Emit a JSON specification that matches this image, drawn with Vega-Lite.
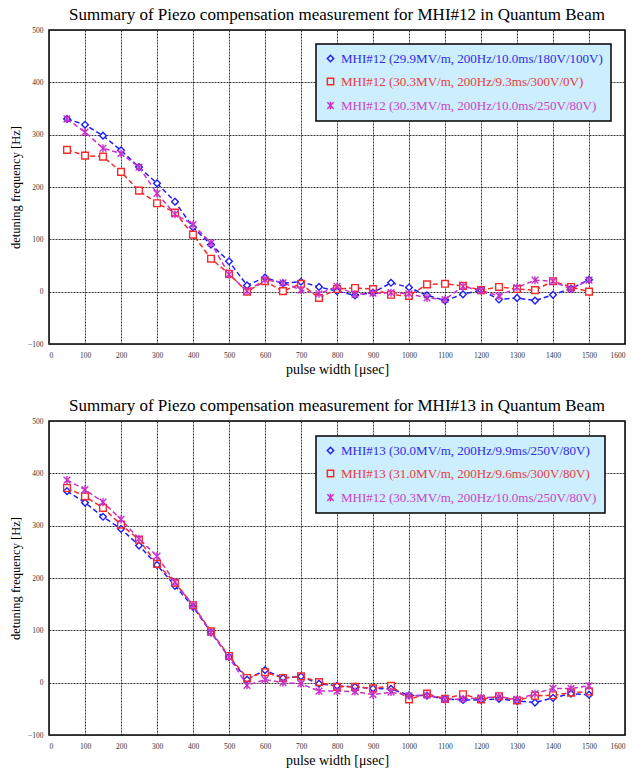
{
  "$schema": "https://vega.github.io/schema/vega-lite/v6.json",
  "padding": {"left": 8, "top": 5, "right": 5, "bottom": 0},
  "background": "white",
  "config": {
    "font": "Liberation Serif",
    "view": {"stroke": "black", "strokeWidth": 1.5},
    "axis": {"grid": true, "gridColor": "#222222", "gridDash": [2, 1], "gridOpacity": 0.9, "gridWidth": 1, "domain": false, "ticks": false, "labelFont": "Liberation Serif", "labelFontSize": 7.5, "labelColor": "#333333", "labelPadding": 6, "titleFont": "Liberation Serif", "titleFontWeight": "normal", "titleFontSize": 12.5, "titleColor": "black", "titlePadding": 5, "format": "d"},
    "axisX": {"labelPadding": 7, "titlePadding": 4, "titleFontSize": 14},
    "title": {"font": "Liberation Serif", "fontSize": 17, "fontWeight": "normal", "color": "black", "offset": 2},
    "legend": {"title": null, "orient": "none", "legendX": 267, "direction": "vertical", "fillColor": "#cdeefc", "strokeColor": "black", "padding": 8, "rowPadding": 9, "labelFont": "Liberation Serif", "labelFontSize": 13, "labelLimit": 400, "labelOffset": 4, "symbolSize": 40, "symbolStrokeWidth": 1.5},
    "concat": {"spacing": 18}
  },
  "datasets": {
    "top": [
      {"x": 50, "s": "a", "y": 330}, {"x": 100, "s": "a", "y": 319}, {"x": 150, "s": "a", "y": 298}, {"x": 200, "s": "a", "y": 270}, {"x": 250, "s": "a", "y": 238}, {"x": 300, "s": "a", "y": 207}, {"x": 350, "s": "a", "y": 172}, {"x": 400, "s": "a", "y": 123}, {"x": 450, "s": "a", "y": 90}, {"x": 500, "s": "a", "y": 58}, {"x": 550, "s": "a", "y": 12}, {"x": 600, "s": "a", "y": 27}, {"x": 650, "s": "a", "y": 16}, {"x": 700, "s": "a", "y": 19}, {"x": 750, "s": "a", "y": 9}, {"x": 800, "s": "a", "y": 1}, {"x": 850, "s": "a", "y": -7}, {"x": 900, "s": "a", "y": -2}, {"x": 950, "s": "a", "y": 17}, {"x": 1000, "s": "a", "y": 8}, {"x": 1050, "s": "a", "y": -7}, {"x": 1100, "s": "a", "y": -17}, {"x": 1150, "s": "a", "y": -5}, {"x": 1200, "s": "a", "y": 3}, {"x": 1250, "s": "a", "y": -15}, {"x": 1300, "s": "a", "y": -12}, {"x": 1350, "s": "a", "y": -17}, {"x": 1400, "s": "a", "y": -6}, {"x": 1450, "s": "a", "y": 6}, {"x": 1500, "s": "a", "y": 23},
      {"x": 50, "s": "b", "y": 271}, {"x": 100, "s": "b", "y": 260}, {"x": 150, "s": "b", "y": 258}, {"x": 200, "s": "b", "y": 229}, {"x": 250, "s": "b", "y": 193}, {"x": 300, "s": "b", "y": 169}, {"x": 350, "s": "b", "y": 151}, {"x": 400, "s": "b", "y": 109}, {"x": 450, "s": "b", "y": 63}, {"x": 500, "s": "b", "y": 34}, {"x": 550, "s": "b", "y": 0}, {"x": 600, "s": "b", "y": 20}, {"x": 650, "s": "b", "y": 1}, {"x": 700, "s": "b", "y": 15}, {"x": 750, "s": "b", "y": -12}, {"x": 800, "s": "b", "y": 5}, {"x": 850, "s": "b", "y": 7}, {"x": 900, "s": "b", "y": 5}, {"x": 950, "s": "b", "y": -6}, {"x": 1000, "s": "b", "y": -8}, {"x": 1050, "s": "b", "y": 14}, {"x": 1100, "s": "b", "y": 15}, {"x": 1150, "s": "b", "y": 11}, {"x": 1200, "s": "b", "y": 3}, {"x": 1250, "s": "b", "y": 9}, {"x": 1300, "s": "b", "y": 5}, {"x": 1350, "s": "b", "y": 3}, {"x": 1400, "s": "b", "y": 20}, {"x": 1450, "s": "b", "y": 9}, {"x": 1500, "s": "b", "y": 0},
      {"x": 50, "s": "c", "y": 330}, {"x": 100, "s": "c", "y": 305}, {"x": 150, "s": "c", "y": 274}, {"x": 200, "s": "c", "y": 264}, {"x": 250, "s": "c", "y": 238}, {"x": 300, "s": "c", "y": 188}, {"x": 350, "s": "c", "y": 148}, {"x": 400, "s": "c", "y": 128}, {"x": 450, "s": "c", "y": 93}, {"x": 500, "s": "c", "y": 33}, {"x": 550, "s": "c", "y": 1}, {"x": 600, "s": "c", "y": 23}, {"x": 650, "s": "c", "y": 17}, {"x": 700, "s": "c", "y": 3}, {"x": 750, "s": "c", "y": -4}, {"x": 800, "s": "c", "y": 10}, {"x": 850, "s": "c", "y": -5}, {"x": 900, "s": "c", "y": -3}, {"x": 950, "s": "c", "y": -2}, {"x": 1000, "s": "c", "y": -4}, {"x": 1050, "s": "c", "y": -12}, {"x": 1100, "s": "c", "y": -15}, {"x": 1150, "s": "c", "y": 10}, {"x": 1200, "s": "c", "y": 2}, {"x": 1250, "s": "c", "y": -8}, {"x": 1300, "s": "c", "y": 8}, {"x": 1350, "s": "c", "y": 22}, {"x": 1400, "s": "c", "y": 20}, {"x": 1450, "s": "c", "y": 5}, {"x": 1500, "s": "c", "y": 22}
    ],
    "bottom": [
      {"x": 50, "s": "a", "y": 366}, {"x": 100, "s": "a", "y": 344}, {"x": 150, "s": "a", "y": 317}, {"x": 200, "s": "a", "y": 294}, {"x": 250, "s": "a", "y": 262}, {"x": 300, "s": "a", "y": 225}, {"x": 350, "s": "a", "y": 185}, {"x": 400, "s": "a", "y": 145}, {"x": 450, "s": "a", "y": 96}, {"x": 500, "s": "a", "y": 49}, {"x": 550, "s": "a", "y": 6}, {"x": 600, "s": "a", "y": 24}, {"x": 650, "s": "a", "y": 9}, {"x": 700, "s": "a", "y": 12}, {"x": 750, "s": "a", "y": -2}, {"x": 800, "s": "a", "y": -6}, {"x": 850, "s": "a", "y": -8}, {"x": 900, "s": "a", "y": -11}, {"x": 950, "s": "a", "y": -12}, {"x": 1000, "s": "a", "y": -24}, {"x": 1050, "s": "a", "y": -25}, {"x": 1100, "s": "a", "y": -31}, {"x": 1150, "s": "a", "y": -33}, {"x": 1200, "s": "a", "y": -33}, {"x": 1250, "s": "a", "y": -31}, {"x": 1300, "s": "a", "y": -35}, {"x": 1350, "s": "a", "y": -38}, {"x": 1400, "s": "a", "y": -29}, {"x": 1450, "s": "a", "y": -21}, {"x": 1500, "s": "a", "y": -23},
      {"x": 50, "s": "b", "y": 372}, {"x": 100, "s": "b", "y": 356}, {"x": 150, "s": "b", "y": 334}, {"x": 200, "s": "b", "y": 302}, {"x": 250, "s": "b", "y": 273}, {"x": 300, "s": "b", "y": 227}, {"x": 350, "s": "b", "y": 191}, {"x": 400, "s": "b", "y": 148}, {"x": 450, "s": "b", "y": 98}, {"x": 500, "s": "b", "y": 51}, {"x": 550, "s": "b", "y": 9}, {"x": 600, "s": "b", "y": 20}, {"x": 650, "s": "b", "y": 9}, {"x": 700, "s": "b", "y": 12}, {"x": 750, "s": "b", "y": 1}, {"x": 800, "s": "b", "y": -8}, {"x": 850, "s": "b", "y": -8}, {"x": 900, "s": "b", "y": -11}, {"x": 950, "s": "b", "y": -6}, {"x": 1000, "s": "b", "y": -32}, {"x": 1050, "s": "b", "y": -21}, {"x": 1100, "s": "b", "y": -31}, {"x": 1150, "s": "b", "y": -22}, {"x": 1200, "s": "b", "y": -32}, {"x": 1250, "s": "b", "y": -26}, {"x": 1300, "s": "b", "y": -34}, {"x": 1350, "s": "b", "y": -25}, {"x": 1400, "s": "b", "y": -24}, {"x": 1450, "s": "b", "y": -19}, {"x": 1500, "s": "b", "y": -17},
      {"x": 50, "s": "c", "y": 387}, {"x": 100, "s": "c", "y": 369}, {"x": 150, "s": "c", "y": 345}, {"x": 200, "s": "c", "y": 312}, {"x": 250, "s": "c", "y": 275}, {"x": 300, "s": "c", "y": 242}, {"x": 350, "s": "c", "y": 192}, {"x": 400, "s": "c", "y": 148}, {"x": 450, "s": "c", "y": 96}, {"x": 500, "s": "c", "y": 49}, {"x": 550, "s": "c", "y": -5}, {"x": 600, "s": "c", "y": 6}, {"x": 650, "s": "c", "y": 0}, {"x": 700, "s": "c", "y": -2}, {"x": 750, "s": "c", "y": -16}, {"x": 800, "s": "c", "y": -16}, {"x": 850, "s": "c", "y": -17}, {"x": 900, "s": "c", "y": -23}, {"x": 950, "s": "c", "y": -18}, {"x": 1000, "s": "c", "y": -25}, {"x": 1050, "s": "c", "y": -24}, {"x": 1100, "s": "c", "y": -32}, {"x": 1150, "s": "c", "y": -31}, {"x": 1200, "s": "c", "y": -29}, {"x": 1250, "s": "c", "y": -27}, {"x": 1300, "s": "c", "y": -32}, {"x": 1350, "s": "c", "y": -21}, {"x": 1400, "s": "c", "y": -11}, {"x": 1450, "s": "c", "y": -11}, {"x": 1500, "s": "c", "y": -6}
    ]
  },
  "vconcat": [
    {
      "title": "Summary of Piezo compensation measurement for MHI#12 in Quantum Beam",
      "width": 576,
      "height": 314,
      "data": {"name": "top"},
      "encoding": {
        "x": {"field": "x", "type": "quantitative", "scale": {"domain": [0, 1600], "nice": false}, "axis": {"values": [0, 100, 200, 300, 400, 500, 600, 700, 800, 900, 1000, 1100, 1200, 1300, 1400, 1500, 1600], "title": "pulse width [μsec]"}},
        "y": {"field": "y", "type": "quantitative", "scale": {"domain": [-100, 500], "nice": false}, "axis": {"values": [-100, 0, 100, 200, 300, 400, 500], "title": "detuning frequency [Hz]"}}
      },
      "layer": [
        {"mark": {"type": "line", "strokeDash": [5, 3], "strokeWidth": 1.5},
         "encoding": {"color": {"field": "s", "type": "nominal", "scale": {"domain": ["a", "b", "c"], "range": ["#1e1ef5", "#f52a2a", "#c832c8"]},
           "legend": {"legendY": 14, "labelExpr": "datum.value === 'a' ? 'MHI#12 (29.9MV/m, 200Hz/10.0ms/180V/100V)' : datum.value === 'b' ? 'MHI#12 (30.3MV/m, 200Hz/9.3ms/300V/0V)' : 'MHI#12 (30.3MV/m, 200Hz/10.0ms/250V/80V)'",
             "encode": {"labels": {"update": {"fill": {"signal": "datum.value === 'a' ? '#2c2ce6' : datum.value === 'b' ? '#e83c3c' : '#c844c8'"}}}, "legend": {"update": {"strokeWidth": {"value": 1.5}}}}}}}},
        {"mark": {"type": "point", "filled": true, "size": 45, "opacity": 1},
         "encoding": {"color": {"value": "white"}, "shape": {"field": "s", "type": "nominal", "scale": {"domain": ["a", "b", "c"], "range": ["diamond", "square", "M-1,-1L1,1M-1,1L1,-1M0,-1.2L0,1.2"]}, "legend": null}}},
        {"mark": {"type": "point", "filled": false, "strokeWidth": 1.4, "size": 45, "opacity": 1},
         "encoding": {
           "color": {"field": "s", "type": "nominal", "scale": {"domain": ["a", "b", "c"], "range": ["#1e1ef5", "#f52a2a", "#c832c8"]},
             "legend": {"legendY": 14, "labelExpr": "datum.value === 'a' ? 'MHI#12 (29.9MV/m, 200Hz/10.0ms/180V/100V)' : datum.value === 'b' ? 'MHI#12 (30.3MV/m, 200Hz/9.3ms/300V/0V)' : 'MHI#12 (30.3MV/m, 200Hz/10.0ms/250V/80V)'",
               "encode": {"labels": {"update": {"fill": {"signal": "datum.value === 'a' ? '#2c2ce6' : datum.value === 'b' ? '#e83c3c' : '#c844c8'"}}}, "legend": {"update": {"strokeWidth": {"value": 1.5}}}}}},
           "shape": {"field": "s", "type": "nominal", "scale": {"domain": ["a", "b", "c"], "range": ["diamond", "square", "M-1,-1L1,1M-1,1L1,-1M0,-1.2L0,1.2"]},
             "legend": {"legendY": 14, "labelExpr": "datum.value === 'a' ? 'MHI#12 (29.9MV/m, 200Hz/10.0ms/180V/100V)' : datum.value === 'b' ? 'MHI#12 (30.3MV/m, 200Hz/9.3ms/300V/0V)' : 'MHI#12 (30.3MV/m, 200Hz/10.0ms/250V/80V)'",
               "encode": {"labels": {"update": {"fill": {"signal": "datum.value === 'a' ? '#2c2ce6' : datum.value === 'b' ? '#e83c3c' : '#c844c8'"}}}, "legend": {"update": {"strokeWidth": {"value": 1.5}}}}}}}}
      ]
    },
    {
      "title": "Summary of Piezo compensation measurement for MHI#13 in Quantum Beam",
      "width": 576,
      "height": 314,
      "data": {"name": "bottom"},
      "encoding": {
        "x": {"field": "x", "type": "quantitative", "scale": {"domain": [0, 1600], "nice": false}, "axis": {"values": [0, 100, 200, 300, 400, 500, 600, 700, 800, 900, 1000, 1100, 1200, 1300, 1400, 1500, 1600], "title": "pulse width [μsec]"}},
        "y": {"field": "y", "type": "quantitative", "scale": {"domain": [-100, 500], "nice": false}, "axis": {"values": [-100, 0, 100, 200, 300, 400, 500], "title": "detuning frequency [Hz]"}}
      },
      "layer": [
        {"mark": {"type": "line", "strokeDash": [5, 3], "strokeWidth": 1.5},
         "encoding": {"color": {"field": "s", "type": "nominal", "scale": {"domain": ["a", "b", "c"], "range": ["#1e1ef5", "#f52a2a", "#c832c8"]},
           "legend": {"legendY": 15, "labelExpr": "datum.value === 'a' ? 'MHI#13 (30.0MV/m, 200Hz/9.9ms/250V/80V)' : datum.value === 'b' ? 'MHI#13 (31.0MV/m, 200Hz/9.6ms/300V/80V)' : 'MHI#12 (30.3MV/m, 200Hz/10.0ms/250V/80V)'",
             "encode": {"labels": {"update": {"fill": {"signal": "datum.value === 'a' ? '#2c2ce6' : datum.value === 'b' ? '#e83c3c' : '#c844c8'"}}}, "legend": {"update": {"strokeWidth": {"value": 1.5}}}}}}}},
        {"mark": {"type": "point", "filled": true, "size": 45, "opacity": 1},
         "encoding": {"color": {"value": "white"}, "shape": {"field": "s", "type": "nominal", "scale": {"domain": ["a", "b", "c"], "range": ["diamond", "square", "M-1,-1L1,1M-1,1L1,-1M0,-1.2L0,1.2"]}, "legend": null}}},
        {"mark": {"type": "point", "filled": false, "strokeWidth": 1.4, "size": 45, "opacity": 1},
         "encoding": {
           "color": {"field": "s", "type": "nominal", "scale": {"domain": ["a", "b", "c"], "range": ["#1e1ef5", "#f52a2a", "#c832c8"]},
             "legend": {"legendY": 15, "labelExpr": "datum.value === 'a' ? 'MHI#13 (30.0MV/m, 200Hz/9.9ms/250V/80V)' : datum.value === 'b' ? 'MHI#13 (31.0MV/m, 200Hz/9.6ms/300V/80V)' : 'MHI#12 (30.3MV/m, 200Hz/10.0ms/250V/80V)'",
               "encode": {"labels": {"update": {"fill": {"signal": "datum.value === 'a' ? '#2c2ce6' : datum.value === 'b' ? '#e83c3c' : '#c844c8'"}}}, "legend": {"update": {"strokeWidth": {"value": 1.5}}}}}},
           "shape": {"field": "s", "type": "nominal", "scale": {"domain": ["a", "b", "c"], "range": ["diamond", "square", "M-1,-1L1,1M-1,1L1,-1M0,-1.2L0,1.2"]},
             "legend": {"legendY": 15, "labelExpr": "datum.value === 'a' ? 'MHI#13 (30.0MV/m, 200Hz/9.9ms/250V/80V)' : datum.value === 'b' ? 'MHI#13 (31.0MV/m, 200Hz/9.6ms/300V/80V)' : 'MHI#12 (30.3MV/m, 200Hz/10.0ms/250V/80V)'",
               "encode": {"labels": {"update": {"fill": {"signal": "datum.value === 'a' ? '#2c2ce6' : datum.value === 'b' ? '#e83c3c' : '#c844c8'"}}}, "legend": {"update": {"strokeWidth": {"value": 1.5}}}}}}}}
      ]
    }
  ],
  "resolve": {"scale": {"color": "independent", "shape": "independent"}}
}
